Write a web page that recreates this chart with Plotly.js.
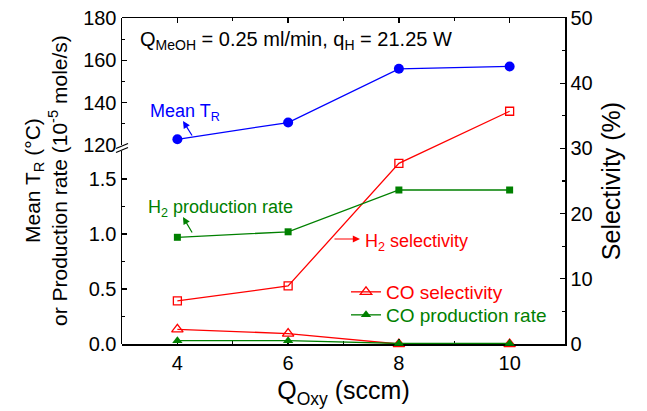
<!DOCTYPE html>
<html>
<head>
<meta charset="utf-8">
<script src="https://cdn.plot.ly/plotly-3.0.1.min.js"></script>
<style>html,body{margin:0;padding:0;background:#fff;}#chart{width:647px;height:411px;}</style>
</head>
<body>
<div id="chart"></div>
<script>
// ---- data ----
const qOxy = [4, 6, 8, 10];                     // Q_Oxy (sccm)
const meanTR = [122.7, 130.6, 156.0, 157.1];    // Mean T_R (°C)
const h2Rate = [0.97, 1.02, 1.40, 1.40];        // H2 production rate (1e-5 mole/s)
const h2Sel = [6.6, 8.9, 27.7, 35.7];           // H2 selectivity (%)
const coSel = [2.25, 1.6, 0, 0];                // CO selectivity (%)
const coRate = [0.03, 0.03, 0.005, 0.005];      // CO production rate (1e-5 mole/s)
const xTicks = [4, 6, 8, 10];
const trTicks = [120, 140, 160, 180];
const rateTicks = [0, 0.5, 1.0, 1.5];
const selTicks = [0, 10, 20, 30, 40, 50];

const FONT = 'Arial, "Liberation Sans", sans-serif';
const BLUE = '#0000ff', RED = '#ff0000', GREEN = '#008000';

// plot-area geometry helpers (paper coordinates from pixel positions)
const L = 122, R = 565, T = 18, B = 344;
const px = v => (v - L) / (R - L);
const py = v => (B - v) / (B - T);

const traces = [
  {x: qOxy, y: meanTR, xaxis: 'x', yaxis: 'y3', mode: 'lines+markers', name: 'Mean T_R', showlegend: false,
   line: {color: BLUE, width: 1.3}, marker: {symbol: 'circle', size: 10, color: BLUE}},
  {x: qOxy, y: h2Rate, xaxis: 'x', yaxis: 'y2', mode: 'lines+markers', name: 'H2 production rate', showlegend: false,
   line: {color: GREEN, width: 1.3}, marker: {symbol: 'square', size: 7, color: GREEN}},
  {x: qOxy, y: h2Sel, xaxis: 'x', yaxis: 'y', mode: 'lines+markers', name: 'H2 selectivity', showlegend: false,
   line: {color: RED, width: 1.3}, marker: {symbol: 'square-open', size: 8, color: RED, line: {width: 1.3}}},
  {x: qOxy, y: coRate, xaxis: 'x', yaxis: 'y2', mode: 'lines+markers', cliponaxis: false, legend: 'legend2',
   name: 'CO production rate',
   line: {color: GREEN, width: 1.3}, marker: {symbol: 'triangle-up', size: 9, color: GREEN}},
  {x: qOxy, y: coSel, xaxis: 'x', yaxis: 'y', mode: 'lines+markers', cliponaxis: false, legend: 'legend',
   name: 'CO selectivity',
   line: {color: RED, width: 1.3}, marker: {symbol: 'triangle-up-open', size: 10, color: RED, line: {width: 1.3}}}
];

const axBase = {showline: true, linecolor: '#000', linewidth: 1.5, ticks: 'inside', ticklen: 5, tickwidth: 1.3,
  tickcolor: '#000', showgrid: false, zeroline: false, tickfont: {family: FONT, size: 20, color: '#000'}};

const arrowAnn = (hx, hy, ax, ay, color) => ({xref: 'paper', yref: 'paper', x: px(hx), y: py(hy), ax: ax, ay: ay,
  text: '', showarrow: true, arrowhead: 2, arrowsize: 1.2, arrowwidth: 1.2, arrowcolor: color,
  standoff: 0, startstandoff: 0, font: {size: 1}});

const layout = {
  width: 647, height: 411,
  margin: {l: L, r: 647 - R, t: T, b: 411 - B},
  paper_bgcolor: '#fff', plot_bgcolor: 'rgba(0,0,0,0)',
  font: {family: FONT, color: '#000'},
  showlegend: true,
  legend: {x: px(346), y: py(292), xanchor: 'left', yanchor: 'middle', bgcolor: 'rgba(0,0,0,0)',
    font: {family: FONT, size: 19, color: RED}},
  legend2: {x: px(346), y: py(315), xanchor: 'left', yanchor: 'middle', bgcolor: 'rgba(0,0,0,0)',
    font: {family: FONT, size: 19, color: GREEN}},
  xaxis: Object.assign({}, axBase, {range: [3, 11], anchor: 'y', tickvals: xTicks, mirror: 'ticks',
    minor: {ticks: 'inside', ticklen: 3, dtick: 1, tick0: 0, tickcolor: '#000'},
    title: {text: 'Q<sub>Oxy</sub> (sccm)', font: {family: FONT, size: 25}, standoff: 9}}),
  yaxis: Object.assign({}, axBase, {domain: [0, 1], range: [0, 50], side: 'right', anchor: 'x', tickvals: selTicks,
    minor: {ticks: 'inside', ticklen: 3, dtick: 5, tick0: 0, tickcolor: '#000'},
    title: {text: 'Selectivity (%)', font: {family: FONT, size: 25}, standoff: 10}}),
  yaxis2: Object.assign({}, axBase, {domain: [0, py(151)], range: [0, (B - 151) / 110], side: 'left', anchor: 'x',
    tickvals: rateTicks, tickformat: '.1f',
    minor: {ticks: 'inside', ticklen: 3, dtick: 0.25, tick0: 0, tickcolor: '#000'}}),
  yaxis3: Object.assign({}, axBase, {domain: [py(145), 1], range: [120, 180], side: 'left', anchor: 'x',
    tickvals: trTicks,
    minor: {ticks: 'inside', ticklen: 3, dtick: 10, tick0: 0, tickcolor: '#000'}}),
  shapes: [
    {type: 'line', xref: 'paper', yref: 'paper', x0: px(116), y0: py(148.5), x1: px(128), y1: py(143.5), line: {color: '#000', width: 1.3}},
    {type: 'line', xref: 'paper', yref: 'paper', x0: px(116), y0: py(152.5), x1: px(128), y1: py(147.5), line: {color: '#000', width: 1.3}}
  ],
  annotations: [
    {xref: 'paper', yref: 'paper', x: px(138), y: py(40), xanchor: 'left', yanchor: 'middle', showarrow: false,
     text: 'Q<sub>MeOH</sub> = 0.25 ml/min, q<sub>H</sub> = 21.25 W', font: {family: FONT, size: 20, color: '#000'}},
    {xref: 'paper', yref: 'paper', x: px(46), y: 0.5, xanchor: 'center', yanchor: 'middle', showarrow: false, textangle: -90,
     text: 'Mean T<sub>R</sub> (°C)<br>or Production rate (10<sup>-5</sup> mole/s)', font: {family: FONT, size: 21, color: '#000'}},
    {xref: 'paper', yref: 'paper', x: px(148), y: py(112), xanchor: 'left', yanchor: 'middle', showarrow: false,
     text: 'Mean T<sub>R</sub>', font: {family: FONT, size: 18, color: BLUE}},
    arrowAnn(183, 121, 10, 16, BLUE),
    {xref: 'paper', yref: 'paper', x: px(146), y: py(209), xanchor: 'left', yanchor: 'middle', showarrow: false,
     text: 'H<sub>2</sub> production rate', font: {family: FONT, size: 18, color: GREEN}},
    arrowAnn(183, 217, 10, 17, GREEN),
    {xref: 'paper', yref: 'paper', x: px(363), y: py(242), xanchor: 'left', yanchor: 'middle', showarrow: false,
     text: 'H<sub>2</sub> selectivity', font: {family: FONT, size: 18, color: RED}},
    arrowAnn(360, 239, -27, 0, RED)
  ]
};

Plotly.newPlot('chart', traces, layout, {displayModeBar: false, staticPlot: true});
</script>
</body>
</html>
